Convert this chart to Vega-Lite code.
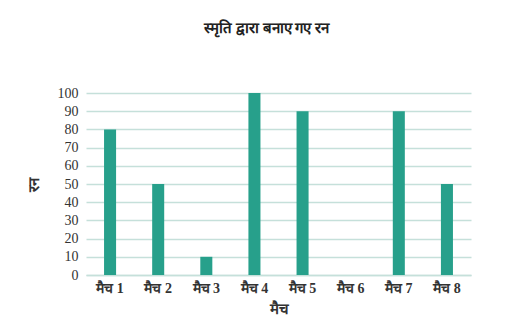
{
  "$schema": "https://vega.github.io/schema/vega-lite/v6.json",
  "autosize": {"type": "none"},
  "width": 385,
  "height": 182,
  "padding": {"left": 86, "top": 93, "right": 46, "bottom": 56},
  "background": "white",
  "title": {
    "text": "स्मृति द्वारा बनाए गए रन",
    "font": "Liberation Serif",
    "fontSize": 15,
    "fontWeight": "bold",
    "color": "#222222",
    "offset": 50,
    "dx": -12
  },
  "data": {
    "values": [
      {"match": "मैच 1", "runs": 80},
      {"match": "मैच 2", "runs": 50},
      {"match": "मैच 3", "runs": 10},
      {"match": "मैच 4", "runs": 100},
      {"match": "मैच 5", "runs": 90},
      {"match": "मैच 6", "runs": 0},
      {"match": "मैच 7", "runs": 90},
      {"match": "मैच 8", "runs": 50}
    ]
  },
  "mark": {"type": "bar", "color": "#27a08b"},
  "encoding": {
    "x": {
      "field": "match",
      "type": "nominal",
      "sort": null,
      "scale": {"paddingInner": 0.75, "paddingOuter": 0.375},
      "axis": {
        "title": "मैच",
        "labelAngle": 0,
        "ticks": false,
        "domainColor": "#c5e0da",
        "domainWidth": 1.5,
        "labelFont": "Liberation Serif",
        "labelFontSize": 14,
        "labelFontWeight": "bold",
        "labelColor": "#333333",
        "labelPadding": 6,
        "titleFont": "Liberation Serif",
        "titleFontSize": 15,
        "titleFontWeight": "bold",
        "titleColor": "#333333",
        "titlePadding": 6
      }
    },
    "y": {
      "field": "runs",
      "type": "quantitative",
      "scale": {"domain": [0, 100], "nice": false},
      "axis": {
        "title": "रन",
        "values": [0, 10, 20, 30, 40, 50, 60, 70, 80, 90, 100],
        "domain": false,
        "ticks": false,
        "gridColor": "#c5e0da",
        "gridWidth": 1.5,
        "labelFont": "Liberation Serif",
        "labelFontSize": 14,
        "labelColor": "#333333",
        "labelPadding": 8,
        "titleFont": "Liberation Serif",
        "titleFontSize": 15,
        "titleFontWeight": "bold",
        "titleColor": "#333333",
        "titlePadding": 16
      }
    }
  },
  "config": {"view": {"stroke": null}}
}
